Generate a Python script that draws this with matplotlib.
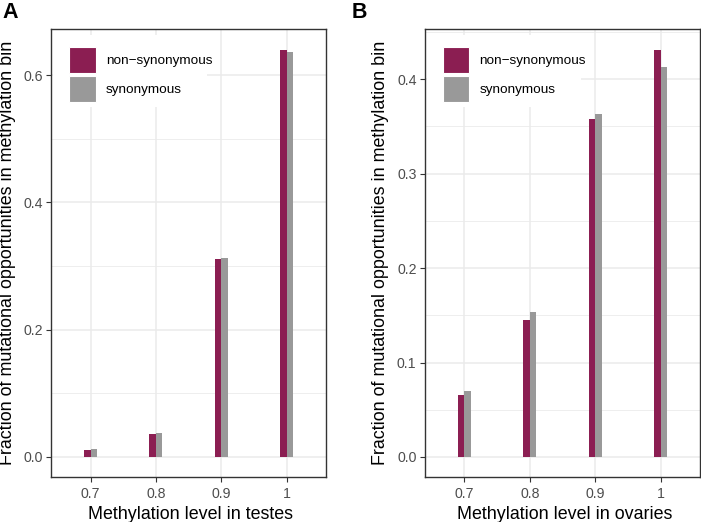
import numpy as np
import matplotlib
matplotlib.use("Agg")
import matplotlib.pyplot as plt
from matplotlib.patches import Patch, Rectangle
from matplotlib.ticker import MultipleLocator, FormatStrFormatter

plt.rcParams['font.family'] = ['Liberation Sans', 'DejaVu Sans']

# данные
levels = ["0.7", "0.8", "0.9", "1"]
series_names = ["non\u2212synonymous", "synonymous"]
testes_nonsyn = [0.0115, 0.0366, 0.311, 0.640]
testes_syn = [0.0125, 0.0377, 0.313, 0.636]
ovaries_nonsyn = [0.0655, 0.1448, 0.358, 0.4313]
ovaries_syn = [0.0694, 0.1533, 0.3636, 0.4133]

col_ns = "#8B1E52"
col_s = "#999999"
grid_col = "#EBEBEB"

W, H = 701, 522
fig = plt.figure(figsize=(W / 100, H / 100), dpi=100)


def px_axes(l, t, r, b):
    return fig.add_axes([l / W, 1 - b / H, (r - l) / W, (b - t) / H])


def draw_panel(ax, ns, s, xlabel, major, minor):
    x = np.arange(len(levels))
    ax.set_axisbelow(True)
    ax.bar(x - 0.05, ns, 0.1, color=col_ns, linewidth=0, zorder=2)
    ax.bar(x + 0.05, s, 0.1, color=col_s, linewidth=0, zorder=2)

    top = max(max(ns), max(s))
    ax.set_xlim(-0.6, len(levels) - 0.4)
    ax.set_ylim(-0.05 * top, top * 1.05)

    ax.set_xticks(x)
    ax.set_xticklabels(levels)
    ax.yaxis.set_major_locator(MultipleLocator(major))
    ax.yaxis.set_minor_locator(MultipleLocator(minor))
    ax.yaxis.set_major_formatter(FormatStrFormatter('%.1f'))

    ax.grid(True, which='major', color=grid_col, linewidth=1.1)
    ax.grid(True, which='minor', axis='y', color=grid_col, linewidth=0.6)
    ax.tick_params(which='major', length=3.3, width=0.8, color='#333333',
                   labelsize=10.2, labelcolor='#4D4D4D', pad=2.8)
    ax.tick_params(axis='x', pad=4.0)
    ax.tick_params(which='minor', length=0)
    for sp in ax.spines.values():
        sp.set_color('#333333')
        sp.set_linewidth(1.0)

    ax.set_xlabel(xlabel, fontsize=12.9, color='black')
    ax.set_ylabel("Fraction of mutational opportunities in methylation bin",
                  fontsize=12.9, color='black')

    # белый фон легенды (в пикселях от угла панели)
    bb = ax.get_position()
    aw, ah = bb.width * W, bb.height * H
    ax.add_patch(Rectangle((1.7 / aw, 1 - 78 / ah), 154 / aw, 72 / ah,
                           transform=ax.transAxes, facecolor='white',
                           edgecolor='none', zorder=1.5))

    handles = [Patch(facecolor=col_ns, edgecolor='white', linewidth=0.8),
               Patch(facecolor=col_s, edgecolor='white', linewidth=0.8)]
    ax.legend(handles, series_names, loc='upper left',
              bbox_to_anchor=(17.7 / aw, 1 - 18 / ah), borderaxespad=0,
              fontsize=9.7, handlelength=1.98, handleheight=2.59,
              labelspacing=0.2, handletextpad=0.76, borderpad=0,
              frameon=False)


ax1 = px_axes(51.3, 29.3, 326, 477.3)
draw_panel(ax1, testes_nonsyn, testes_syn, "Methylation level in testes", 0.2, 0.1)
ax1.yaxis.set_label_coords((16 - 51.3) / 274.7, 0.5)
ax1.xaxis.set_label_coords(0.507, -0.064)

ax2 = px_axes(425, 29.3, 700, 477.3)
draw_panel(ax2, ovaries_nonsyn, ovaries_syn, "Methylation level in ovaries", 0.1, 0.05)
ax2.yaxis.set_label_coords((389 - 425) / 275, 0.5)
ax2.xaxis.set_label_coords(0.507, -0.064)

fig.text(2 / W, 1 - 1.5 / H, "A", fontsize=15.5, fontweight='bold', va='top', ha='left')
fig.text(352 / W, 1 - 1.5 / H, "B", fontsize=15.5, fontweight='bold', va='top', ha='left')

fig.savefig("out.png", dpi=100)
